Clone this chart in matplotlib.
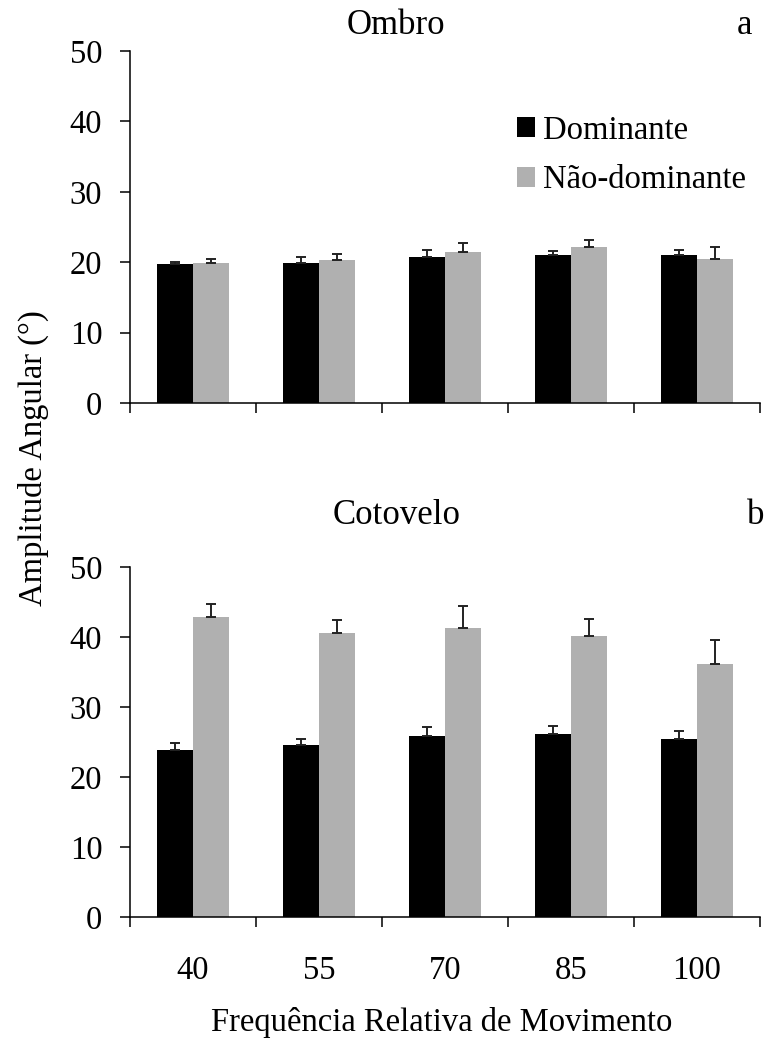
import numpy as np
import matplotlib
matplotlib.use('Agg')
import matplotlib.pyplot as plt
from matplotlib.patches import Patch

plt.rcParams['font.family'] = ['Liberation Serif', 'DejaVu Serif']

freq_labels = ['40', '55', '70', '85', '100']
series_names = ['Dominante', 'Não-dominante']

# ombro (a)
ombro_dom = [19.7, 19.9, 20.8, 21.0, 21.0]
ombro_dom_err = [0.4, 0.8, 1.0, 0.6, 0.8]
ombro_nd = [19.9, 20.3, 21.4, 22.1, 20.5]
ombro_nd_err = [0.6, 0.9, 1.3, 1.1, 1.6]

# cotovelo (b)
cot_dom = [23.9, 24.6, 25.8, 26.2, 25.5]
cot_dom_err = [0.9, 0.9, 1.3, 1.1, 1.1]
cot_nd = [42.9, 40.5, 41.3, 40.2, 36.2]
cot_nd_err = [1.8, 1.9, 3.1, 2.4, 3.3]

FS = 23.5
w = 0.288
x = np.arange(len(freq_labels))

fig = plt.figure(figsize=(7.7, 10.39), dpi=100)
ax1 = fig.add_axes([0.169, 0.6121, 0.818, 0.3388])
ax2 = fig.add_axes([0.169, 0.1174, 0.818, 0.3369])


def draw(ax, dom, dom_err, nd, nd_err, show_xlabels):
    ax.bar(x - w / 2, dom, w, color='black', zorder=2)
    ax.bar(x + w / 2, nd, w, color='#b0b0b0', zorder=2)
    ax.errorbar(x - w / 2, dom, yerr=[np.zeros(5), dom_err], fmt='none',
                ecolor='#222222', elinewidth=1.4, capsize=3.8, capthick=1.4, zorder=3)
    ax.errorbar(x + w / 2, nd, yerr=[np.zeros(5), nd_err], fmt='none',
                ecolor='#222222', elinewidth=1.4, capsize=3.8, capthick=1.4, zorder=3)
    ax.set_xlim(-0.5, 4.5)
    ax.set_ylim(0, 50)
    ax.set_yticks([0, 10, 20, 30, 40, 50])
    ax.spines['top'].set_visible(False)
    ax.spines['right'].set_visible(False)
    for s in ['left', 'bottom']:
        ax.spines[s].set_linewidth(1.1)
    ax.tick_params(axis='y', direction='out', length=7, width=1.1, labelsize=FS, pad=13)
    ax.set_xticks(x)
    ax.set_xticks(np.arange(-0.5, 5.0, 1.0), minor=True)
    ax.tick_params(axis='x', which='major', length=0, labelsize=FS, pad=28)
    ax.tick_params(axis='x', which='minor', direction='out', length=7, width=1.1)
    if show_xlabels:
        ax.set_xticklabels(freq_labels)
    else:
        ax.set_xticklabels([])


draw(ax1, ombro_dom, ombro_dom_err, ombro_nd, ombro_nd_err, False)
draw(ax2, cot_dom, cot_dom_err, cot_nd, cot_nd_err, True)

fig.text(396 / 770, 1 - 25 / 1039, 'Ombro', fontsize=25, ha='center', va='center')
fig.text(745 / 770, 1 - 25 / 1039, 'a', fontsize=25, ha='center', va='center')
fig.text(397 / 770, 1 - 516 / 1039, 'Cotovelo', fontsize=25, ha='center', va='center')
fig.text(756 / 770, 1 - 516 / 1039, 'b', fontsize=25, ha='center', va='center')

fig.text(33 / 770, 1 - 458 / 1039, 'Amplitude Angular (°)', fontsize=FS,
         rotation=90, ha='center', va='center')
fig.text(442 / 770, 1 - 1022 / 1039, 'Frequência Relativa de Movimento',
         fontsize=FS, ha='center', va='center')

handles = [Patch(facecolor='black'), Patch(facecolor='#b0b0b0')]
fig.legend(handles, series_names, loc='upper left',
           bbox_to_anchor=(501 / 770, 1 - 99 / 1039), frameon=False,
           fontsize=FS, handlelength=0.55, handleheight=0.55,
           handletextpad=0.25, labelspacing=0.58, borderpad=0)

fig.savefig('out.png', dpi=100)
